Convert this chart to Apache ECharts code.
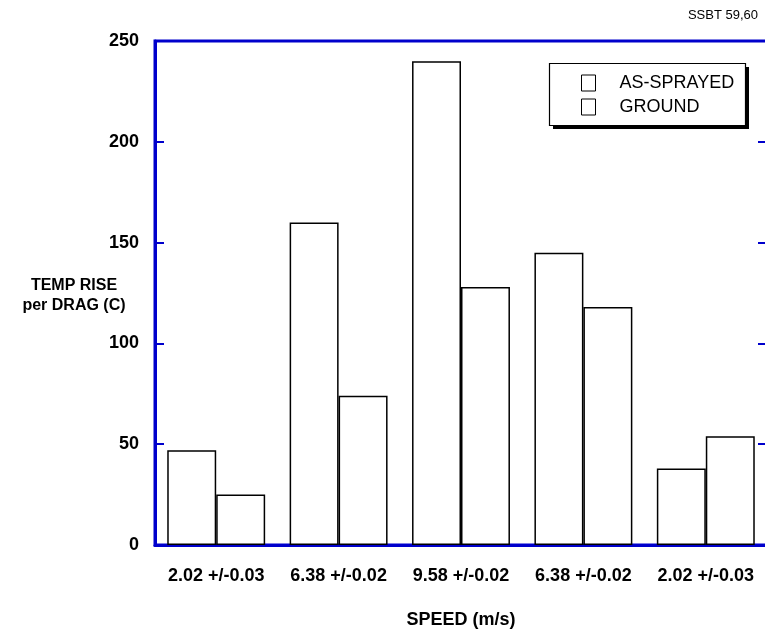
<!DOCTYPE html>
<html>
<head>
<meta charset="utf-8">
<script src="https://cdn.jsdelivr.net/npm/echarts@6/dist/echarts.min.js"></script>
<style>html,body{margin:0;padding:0;background:#fff;}#c{width:765px;height:632px;}</style>
</head>
<body>
<div id="c"></div>
<script>
const categories = ['2.02 +/-0.03', '6.38 +/-0.02', '9.58 +/-0.02', '6.38 +/-0.02', '2.02 +/-0.03'];
const asSprayed = [47, 160, 240, 145, 38];
const ground = [25, 74, 128, 118, 54];
const seriesNames = ['AS-SPRAYED', 'GROUND'];
const yTitle = 'TEMP RISE\nper DRAG (C)';
const blue = '#0000cc';
const font = 'Liberation Sans, Arial, sans-serif';

const chart = echarts.init(document.getElementById('c'));
chart.setOption({
  animation: false,
  backgroundColor: '#fff',
  title: {
    text: 'SSBT 59,60',
    right: 7, top: 9, padding: 0,
    textStyle: { fontFamily: font, fontSize: 13, fontWeight: 'normal', color: '#000' }
  },
  grid: {
    left: 155, top: 41, width: 612, height: 504,
    outerBoundsMode: 'none',
    containLabel: false,
    show: true, borderColor: blue, borderWidth: 3, backgroundColor: 'transparent'
  },
  graphic: [
    { type: 'rect', shape: { x: 553, y: 67, width: 196, height: 62 }, style: { fill: '#000' }, z: 0 },
    { type: 'rect', shape: { x: 549.5, y: 63.5, width: 196, height: 62 }, style: { fill: '#fff', stroke: '#000', lineWidth: 1.2 }, z: 1 },
    { type: 'text', x: 74, y: 276, z: 5,
      style: { text: yTitle, fill: '#000', font: 'bold 16px ' + font, textAlign: 'center', textVerticalAlign: 'top', lineHeight: 20 } }
  ],
  legend: {
    orient: 'vertical',
    left: 576, top: 69,
    itemWidth: 14, itemHeight: 16, itemGap: 6,
    icon: 'rect',
    z: 10,
    data: seriesNames,
    itemStyle: { color: '#fff', borderColor: '#000', borderWidth: 1 },
    textStyle: { fontFamily: font, fontSize: 18, lineHeight: 16, color: '#000', padding: [0, 0, 0, 19] }
  },
  xAxis: {
    type: 'category',
    data: categories,
    name: 'SPEED (m/s)',
    nameLocation: 'middle',
    nameGap: 66,
    nameTextStyle: { fontFamily: font, fontSize: 18, fontWeight: 'bold', color: '#000' },
    axisLine: { show: true, lineStyle: { color: blue, width: 3 } },
    axisTick: { show: false },
    axisLabel: { interval: 0, hideOverlap: false, fontFamily: font, fontSize: 18, fontWeight: 'bold', color: '#000', margin: 22 }
  },
  yAxis: [{
    type: 'value',
    min: 0, max: 250, interval: 50,
    axisLine: { show: true, lineStyle: { color: blue, width: 3 } },
    axisTick: { show: true, inside: true, length: 9, lineStyle: { color: blue, width: 2 } },
    splitLine: { show: false },
    axisLabel: { fontFamily: font, fontSize: 18, fontWeight: 'bold', color: '#000', margin: 16 }
  }, {
    type: 'value',
    position: 'right',
    min: 0, max: 250, interval: 50,
    axisLine: { show: true, lineStyle: { color: blue, width: 3 } },
    axisTick: { show: true, inside: true, length: 9, lineStyle: { color: blue, width: 2 } },
    splitLine: { show: false },
    axisLabel: { show: false }
  }],
  series: [{
    name: seriesNames[0],
    type: 'bar',
    data: asSprayed,
    barGap: '0%',
    barCategoryGap: '20%',
    itemStyle: { color: '#fff', borderColor: '#000', borderWidth: 1.5 }
  }, {
    name: seriesNames[1],
    type: 'bar',
    data: ground,
    barGap: '0%',
    barCategoryGap: '20%',
    itemStyle: { color: '#fff', borderColor: '#000', borderWidth: 1.5 }
  }]
});
</script>
</body>
</html>
